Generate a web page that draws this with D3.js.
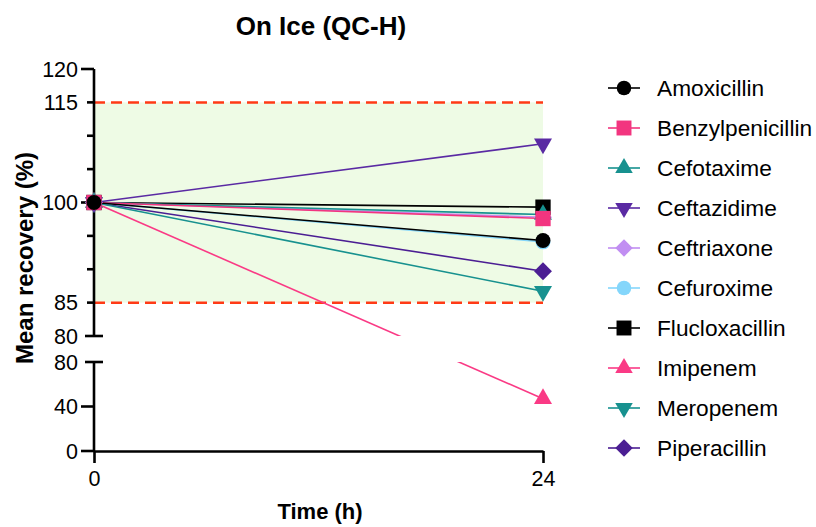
<!DOCTYPE html>
<html>
<head>
<meta charset="utf-8">
<script src="https://cdn.jsdelivr.net/npm/d3@7"></script>
<style>
  body { margin: 0; background: #fff; }
  text { font-family: Arial, "Liberation Sans", sans-serif; }
</style>
</head>
<body>
<svg id="chart" width="816" height="527"></svg>
<script>
// ---- data ----
const times = [0, 24];
const seriesNames = ["Amoxicillin", "Benzylpenicillin", "Cefotaxime", "Ceftazidime", "Ceftriaxone",
                     "Cefuroxime", "Flucloxacillin", "Imipenem", "Meropenem", "Piperacillin"];
const amoxicillin      = [100, 94.3];
const benzylpenicillin = [100, 97.6];
const cefotaxime       = [100, 98.2];
const ceftazidime      = [100, 108.8];
const ceftriaxone      = [100, 97.8];
const cefuroxime       = [100, 94.1];
const flucloxacillin   = [100, 99.3];
const imipenem         = [100, 47];
const meropenem        = [100, 86.7];
const piperacillin     = [100, 89.7];
const seriesValues = [amoxicillin, benzylpenicillin, cefotaxime, ceftazidime, ceftriaxone,
                      cefuroxime, flucloxacillin, imipenem, meropenem, piperacillin];
const seriesColors = ["#000000", "#f2357f", "#17918f", "#5a2aa3", "#c18ef2",
                      "#84d6fb", "#000000", "#fa3a85", "#17918f", "#4b1e93"];
const seriesSymbols = ["circle", "square", "tri-up", "tri-down", "diamond",
                       "circle", "square", "tri-up", "tri-down", "diamond"];
const upperMajorTicks = [100, 120];
const upperMinorTicks = [85, 90, 95, 105, 110, 115];
const upperLabels = [80, 85, 100, 115, 120];
const lowerTicks = [0, 40, 80];
const xTicks = [0, 24];
const rangeLimits = [85, 115];

// ---- layout ----
const svg = d3.select("#chart");
const axisX = 94;
const AX_W = 2.6;
const x = d3.scaleLinear().domain([0, 24]).range([axisX, 543]);
const yHigh = d3.scaleLinear().domain([80, 120]).range([336, 69]);
const yLow = d3.scaleLinear().domain([0, 80]).range([451, 362]);
const y = v => v <= 80 ? yLow(v) : yHigh(v);

// clip for the broken axis gap
const defs = svg.append("defs");
const clip = defs.append("clipPath").attr("id", "gapclip");
clip.append("rect").attr("x", 0).attr("y", 0).attr("width", 816).attr("height", yHigh(80));
clip.append("rect").attr("x", 0).attr("y", yLow(80)).attr("width", 816).attr("height", 527 - yLow(80));

// green acceptable band
svg.append("rect")
  .attr("x", x(0)).attr("width", x(24) - x(0))
  .attr("y", yHigh(rangeLimits[1])).attr("height", yHigh(rangeLimits[0]) - yHigh(rangeLimits[1]))
  .attr("fill", "#eefbe5");

// dashed limits
svg.selectAll(".limit").data(rangeLimits).join("line")
  .attr("x1", x(0)).attr("x2", x(24))
  .attr("y1", d => yHigh(d)).attr("y2", d => yHigh(d))
  .attr("stroke", "#ff3a16").attr("stroke-width", 2.5)
  .attr("stroke-dasharray", "11,6");

// symbol helpers
function symPath(sym, scale) {
  const k = scale || 1;
  if (sym === "circle") return d3.symbol().type(d3.symbolCircle).size(175 * k)();
  if (sym === "square") return d3.symbol().type(d3.symbolSquare).size(235 * k)();
  if (sym === "diamond") return d3.symbol().type(d3.symbolSquare).size(160 * k)();
  return d3.symbol().type(d3.symbolTriangle).size(140 * k)();
}
function symTransform(sym, px, py) {
  if (sym === "tri-down") return `translate(${px},${py}) rotate(180)`;
  if (sym === "diamond") return `translate(${px},${py}) rotate(45)`;
  return `translate(${px},${py})`;
}

// lines (clipped across the axis break)
const lineGen = d3.line().x((d, i) => x(times[i])).y(d => y(d));
const lineG = svg.append("g").attr("clip-path", "url(#gapclip)");
const order = d3.range(seriesNames.length).reverse();
order.forEach(i => {
  lineG.append("path").datum(seriesValues[i])
    .attr("d", lineGen).attr("fill", "none")
    .attr("stroke", seriesColors[i]).attr("stroke-width", 1.6);
});

// axes
const axisFont = "21.5px";
// upper y axis
const gUp = svg.append("g").attr("transform", `translate(${axisX},0)`);
gUp.append("line").attr("x1", 0).attr("x2", 0).attr("y1", yHigh(80)).attr("y2", yHigh(120))
  .attr("stroke", "#000").attr("stroke-width", AX_W);
gUp.selectAll(".maj").data(upperMajorTicks).join("line")
  .attr("x1", -13).attr("x2", 0).attr("y1", d => yHigh(d)).attr("y2", d => yHigh(d))
  .attr("stroke", "#000").attr("stroke-width", AX_W);
gUp.selectAll(".min").data(upperMinorTicks).join("line")
  .attr("x1", -7).attr("x2", 0).attr("y1", d => yHigh(d)).attr("y2", d => yHigh(d))
  .attr("stroke", "#000").attr("stroke-width", AX_W);
gUp.append("line").attr("x1", -9).attr("x2", 9).attr("y1", yHigh(80)).attr("y2", yHigh(80))
  .attr("stroke", "#000").attr("stroke-width", AX_W);
gUp.selectAll(".lbl").data(upperLabels).join("text")
  .attr("x", -16).attr("y", d => yHigh(d)).attr("dy", "0.36em")
  .attr("text-anchor", "end").attr("font-size", axisFont).text(d => d);

// lower y axis
const gLow = svg.append("g").attr("transform", `translate(${axisX},0)`);
gLow.append("line").attr("x1", 0).attr("x2", 0).attr("y1", yLow(0)).attr("y2", yLow(80))
  .attr("stroke", "#000").attr("stroke-width", AX_W);
gLow.selectAll(".t").data(lowerTicks.filter(d => d !== 80)).join("line")
  .attr("x1", -13).attr("x2", 0).attr("y1", d => yLow(d)).attr("y2", d => yLow(d))
  .attr("stroke", "#000").attr("stroke-width", AX_W);
gLow.append("line").attr("x1", -9).attr("x2", 9).attr("y1", yLow(80)).attr("y2", yLow(80))
  .attr("stroke", "#000").attr("stroke-width", AX_W);
gLow.selectAll(".lbl").data(lowerTicks).join("text")
  .attr("x", -16).attr("y", d => yLow(d)).attr("dy", "0.36em")
  .attr("text-anchor", "end").attr("font-size", axisFont).text(d => d);

// x axis
const gX = svg.append("g").attr("transform", `translate(0,${yLow(0)})`)
  .call(d3.axisBottom(x).tickValues(xTicks).tickSize(12).tickSizeOuter(0).tickPadding(8));
gX.select(".domain").attr("stroke-width", AX_W);
gX.selectAll(".tick line").attr("stroke-width", AX_W);
gX.selectAll(".tick text").attr("font-size", axisFont).attr("font-family", "Arial, 'Liberation Sans', sans-serif").attr("fill", "#000");

// markers
order.forEach(i => {
  const sym = seriesSymbols[i];
  svg.append("g").selectAll("path").data(seriesValues[i]).join("path")
    .attr("d", symPath(sym))
    .attr("transform", (d, k) => symTransform(sym, x(times[k]), y(d)))
    .attr("fill", seriesColors[i]);
});

// titles
svg.append("text").attr("x", 321).attr("y", 26).attr("dy", "0.35em")
  .attr("text-anchor", "middle").attr("font-size", "26px").attr("font-weight", "bold")
  .text("On Ice (QC-H)");
svg.append("text").attr("x", 320).attr("y", 511).attr("dy", "0.35em")
  .attr("text-anchor", "middle").attr("font-size", "22px").attr("font-weight", "bold")
  .text("Time (h)");
svg.append("text")
  .attr("transform", "translate(25,258) rotate(-90)")
  .attr("dy", "0.35em")
  .attr("text-anchor", "middle").attr("font-size", "24px").attr("font-weight", "bold")
  .text("Mean recovery (%)");

// legend
const legend = svg.append("g").attr("transform", "translate(608,88)");
seriesNames.forEach((name, i) => {
  const g = legend.append("g").attr("transform", `translate(0,${i * 40})`);
  g.append("line").attr("x1", 0).attr("x2", 32).attr("y1", 0).attr("y2", 0)
    .attr("stroke", seriesColors[i]).attr("stroke-width", 1.6);
  const sym = seriesSymbols[i];
  g.append("path").attr("d", symPath(sym, 0.95))
    .attr("transform", symTransform(sym, 16, 0))
    .attr("fill", seriesColors[i]);
  g.append("text").attr("x", 49).attr("y", 0).attr("dy", "0.35em")
    .attr("font-size", "22.7px").text(name);
});
</script>
</body>
</html>
